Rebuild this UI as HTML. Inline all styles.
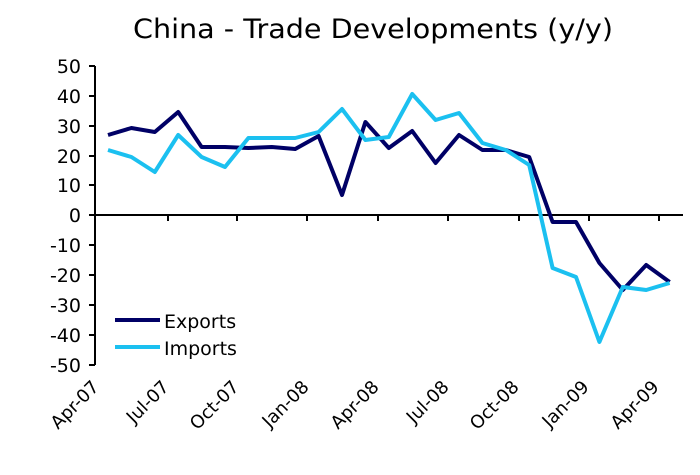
<!DOCTYPE html>
<html><head><style>body{margin:0;background:#fff}svg{display:block}text{font-family:"DejaVu Sans","Liberation Sans",sans-serif;fill:#000}</style></head>
<body>
<svg width="700" height="475" viewBox="0 0 700 475">
<text x="133" y="38" font-size="27" textLength="480" lengthAdjust="spacingAndGlyphs">China - Trade Developments (y/y)</text>
<g stroke="#000" stroke-width="2" fill="none">
<line x1="95" y1="66" x2="95" y2="365"/>
<line x1="95" y1="215" x2="683" y2="215"/>
<path d="M89 66H95M89 96H95M89 126H95M89 156H95M89 185H95M89 215H95M89 245H95M89 275H95M89 305H95M89 335H95M89 365H95"/>
<path d="M168 215V221M237 215V221M307 215V221M378 215V221M448 215V221M519 215V221M589 215V221M659 215V221"/>
</g>
<g font-size="19" text-anchor="end">
<text x="81" y="73">50</text><text x="81" y="103">40</text><text x="81" y="133">30</text><text x="81" y="163">20</text><text x="81" y="192">10</text><text x="81" y="222">0</text><text x="81" y="252">-10</text><text x="81" y="282">-20</text><text x="81" y="312">-30</text><text x="81" y="342">-40</text><text x="81" y="372">-50</text>
</g>
<g font-size="18" text-anchor="end">
<text transform="translate(100,388) rotate(-45)">Apr-07</text>
<text transform="translate(170,388) rotate(-45)">Jul-07</text>
<text transform="translate(240,388) rotate(-45)">Oct-07</text>
<text transform="translate(310,388) rotate(-45)">Jan-08</text>
<text transform="translate(380,388) rotate(-45)">Apr-08</text>
<text transform="translate(450,388) rotate(-45)">Jul-08</text>
<text transform="translate(520,388) rotate(-45)">Oct-08</text>
<text transform="translate(590,388) rotate(-45)">Jan-09</text>
<text transform="translate(660,388) rotate(-45)">Apr-09</text>
</g>
<g fill="none" stroke-width="4" stroke-linejoin="round">
<polyline stroke="#000066" points="108,135 131.4,128 154.8,132 178.2,112 201.6,147 225,147 248.4,148 271.8,147 295.2,149 318.6,136 342,195 365.4,122 388.8,148 412.2,131 435.6,163 459,135 482.4,150 505.8,150 529.2,157 552.6,222 576,222 599.4,263 622.8,290 646.2,265 669.6,282"/>
<polyline stroke="#1bc0f0" points="108,150 131.4,157 154.8,172 178.2,135 201.6,157 225,167 248.4,138 271.8,138 295.2,138 318.6,132 342,109 365.4,140 388.8,137 412.2,94 435.6,120 459,113 482.4,143 505.8,150 529.2,165 552.6,268 576,277 599.4,342 622.8,287 646.2,290 669.6,283"/>
<line x1="115" y1="320" x2="160" y2="320" stroke="#000066"/>
<line x1="115" y1="347" x2="160" y2="347" stroke="#1bc0f0"/>
</g>
<text x="164" y="328" font-size="19">Exports</text>
<text x="164" y="355" font-size="19">Imports</text>
</svg>
</body></html>
